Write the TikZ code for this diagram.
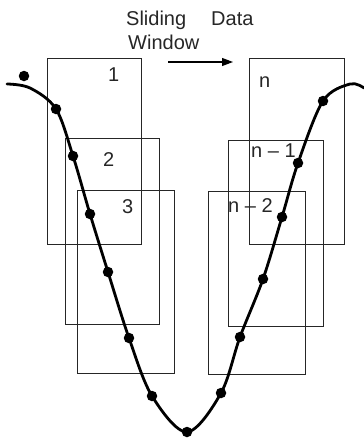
\documentclass[tikz,border=0pt]{standalone}
\usepackage{fontspec}
\setmainfont{Liberation Sans}
\usetikzlibrary{arrows.meta}
\begin{document}
\begin{tikzpicture}[x=1pt,y=-1pt,
  win/.style={draw=black!85, line width=1.1pt, inner sep=0pt, anchor=north west},
  lbl/.style={inner sep=0pt, anchor=base west, font=\fontsize{20}{24}\selectfont, text=black!85},
  dotn/.style={circle, fill=black, inner sep=0pt, minimum size=10.5pt},
  curve/.style={line width=2.8pt, line cap=round}]
\useasboundingbox (0,0) rectangle (364,439);
% windows
\node[win, minimum width=94pt, minimum height=186pt] (w1) at (47,58) {};
\node[win, minimum width=94pt, minimum height=186pt] (w2) at (65,138) {};
\node[win, minimum width=97pt, minimum height=183pt] (w3) at (77,190) {};
\node[win, minimum width=95pt, minimum height=186pt] (wn) at (249,58) {};
\node[win, minimum width=95pt, minimum height=186pt] (wn1) at (228,140) {};
\node[win, minimum width=97pt, minimum height=183pt] (wn2) at (208,191) {};
% labels
\node[lbl] (l1) at (108,81) {1};
\node[lbl] (l2) at (103,166) {2};
\node[lbl] (l3) at (122,213) {3};
\node[lbl] (ln) at (259,87) {n};
\node[lbl] (ln1) at (251,157) {n – 1};
\node[lbl] (ln2) at (228,212) {n – 2};
% title
\node[lbl] (t1) at (126,25) {Sliding};
\node[lbl] (t2) at (211,25) {Data};
\node[lbl] (t3) at (128,49) {Window};
\coordinate (a0) at (168,62);
\coordinate (a1) at (233,62);
\draw[-{Triangle[length=11pt,width=8pt]}, line width=1.1pt] (a0) -- (a1);
% curve
\coordinate (c0) at (7,84);
\coordinate (c1) at (30,88);
\coordinate (p1) at (56,109);
\coordinate (p2) at (73,156);
\coordinate (p3) at (90,214);
\coordinate (p4) at (108,272);
\coordinate (p5) at (129,338);
\coordinate (p6) at (152,396);
\coordinate (p7) at (187,432);
\coordinate (p8) at (221,393);
\coordinate (p9) at (240,337);
\coordinate (p10) at (263,279);
\coordinate (p11) at (282,217);
\coordinate (p12) at (298,163);
\coordinate (p13) at (323,101);
\coordinate (c2) at (350,84);
\coordinate (c3) at (364,88);
\draw[curve] plot[smooth, tension=0.55] coordinates {(c0) (c1) (p1) (p2) (p3) (p4) (p5) (p6) (p7) (p8) (p9) (p10) (p11) (p12) (p13) (c2) (c3)};
\foreach \p in {p1,p2,p3,p4,p5,p6,p7,p8,p9,p10,p11,p12,p13}
  \node[dotn] (d\p) at (\p) {};
\node[dotn] (d0) at (24,76) {};
\end{tikzpicture}
\end{document}
